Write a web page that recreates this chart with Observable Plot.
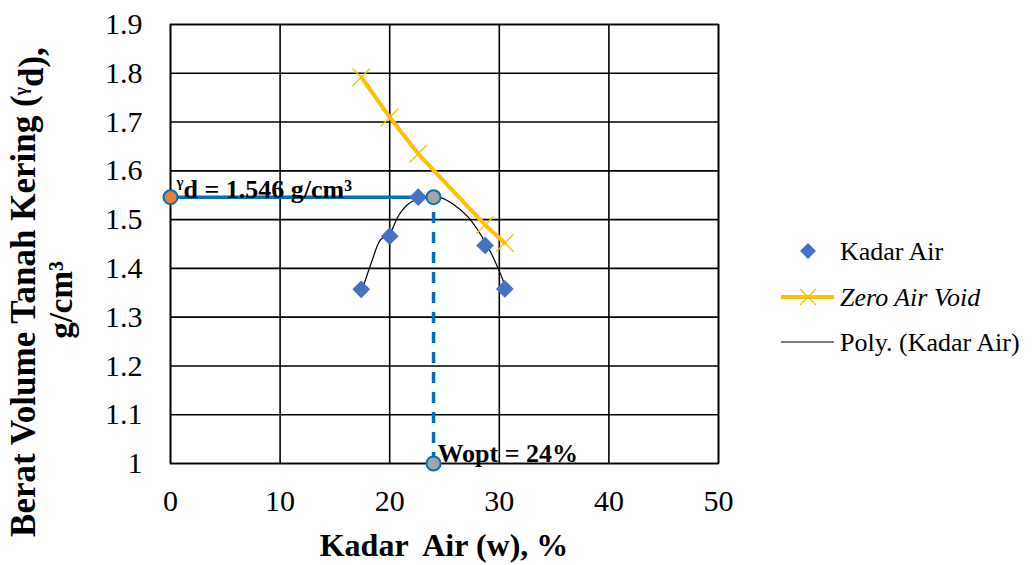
<!DOCTYPE html>
<html><head><meta charset="utf-8">
<script src="https://cdn.jsdelivr.net/npm/d3@7"></script>
<script src="https://cdn.jsdelivr.net/npm/@observablehq/plot@0.6"></script>
<style>
body{margin:0;background:#fff;}
#wrap{position:relative;width:1032px;height:565px;}
</style></head>
<body><div id="wrap"></div>
<script>
const FONT = "Liberation Serif, Times New Roman, serif";
// Kadar Air (moisture content, %) vs dry density (g/cm3)
const waterContent = [17.4, 20.0, 22.6, 28.7, 30.5];
const dryDensity = [1.357, 1.466, 1.546, 1.447, 1.358];
// Zero Air Void line
const zavWater = [17.4, 20.0, 22.6, 28.7, 30.5];
const zavDensity = [1.792, 1.710, 1.635, 1.489, 1.452];
// Poly. (Kadar Air) trendline
const polyWater = [17.46, 18.38, 19.14, 20.0, 20.83, 21.75, 22.67, 23.59, 24.66, 25.89, 27.12, 28.34, 29.26, 30.03, 30.49];
const polyDensity = [1.354, 1.415, 1.458, 1.472, 1.509, 1.533, 1.543, 1.547, 1.545, 1.530, 1.506, 1.468, 1.431, 1.393, 1.366];
// Optimum
const wOpt = 24;
const gammaMax = 1.546;
const xTicks = [0, 10, 20, 30, 40, 50];
const yTicks = [1, 1.1, 1.2, 1.3, 1.4, 1.5, 1.6, 1.7, 1.8, 1.9];
const legendLabels = ["Kadar Air", "Zero Air Void", "Poly. (Kadar Air)"];

const pts = waterContent.map((w, i) => ({w, d: dryDensity[i]}));
const zav = zavWater.map((w, i) => ({w, d: zavDensity[i]}));
const poly = polyWater.map((w, i) => ({w, d: polyDensity[i]}));

const blue = "#0070C0";
const plot = Plot.plot({
  width: 1032, height: 565,
  marginLeft: 170, marginRight: 314, marginTop: 24, marginBottom: 102,
  style: {fontFamily: FONT, fontSize: "30px", color: "#000", background: "#fff"},
  x: {domain: [0, 50], ticks: xTicks, tickSize: 0, tickPadding: 26, label: null},
  y: {domain: [1, 1.9], ticks: yTicks, tickSize: 0, tickPadding: 28, label: null, tickFormat: d => String(+d.toFixed(1))},
  marks: [
    Plot.gridX(xTicks, {stroke: "#000", strokeOpacity: 1, strokeWidth: 1.6}),
    Plot.gridY(yTicks, {stroke: "#000", strokeOpacity: 1, strokeWidth: 1.6}),
    Plot.frame({stroke: "#000", strokeWidth: 1.6}),
    Plot.line(poly, {x: "w", y: "d", stroke: "#000", strokeWidth: 1.2, curve: "catmull-rom"}),
    Plot.line(zav, {x: "w", y: "d", stroke: "#FFC000", strokeWidth: 4}),
    Plot.dot(zav, {x: "w", y: "d", symbol: "times", stroke: "#FFC000", strokeWidth: 1.3, r: 8}),
    Plot.ruleY([gammaMax], {x1: 0, x2: wOpt, stroke: blue, strokeWidth: 3.5}),
    Plot.ruleX([wOpt], {y1: 1, y2: gammaMax, stroke: blue, strokeWidth: 3.5, strokeDasharray: "11,9"}),
    Plot.dot(pts, {x: "w", y: "d", symbol: "diamond2", fill: "#4472C4", r: 8}),
    Plot.dot([{w: 0, d: gammaMax}], {x: "w", y: "d", fill: "#ED7D31", stroke: blue, strokeWidth: 2, r: 7}),
    Plot.dot([{w: wOpt, d: gammaMax}, {w: wOpt, d: 1}], {x: "w", y: "d", fill: "#A5A5A5", stroke: blue, strokeWidth: 2, r: 7}),
    Plot.text(["d = " + gammaMax.toFixed(3) + " g/cm³"], {x: 0, y: gammaMax, textAnchor: "start", dx: 6, dy: -12, fontSize: 26, fontWeight: "bold", fill: "#000", fontFamily: FONT}),
    Plot.text(["Wopt = " + wOpt + "%"], {x: wOpt, y: 1, textAnchor: "start", dx: 4, dy: -10, fontSize: 26, fontWeight: "bold", fill: "#000", fontFamily: FONT})
  ]
});
document.getElementById("wrap").appendChild(plot);

const svg = d3.select(plot);
svg.selectAll('g[aria-label$="tick label"]').attr("font-family", FONT).attr("font-size", 30);

// add small gamma before "d = ..." annotation
svg.selectAll("text").each(function() {
  const t = d3.select(this);
  if (t.text().startsWith("d = ")) {
    const txt = t.text();
    t.text(null);
    t.append("tspan").attr("font-size", 15).attr("dy", "-0.45em").text("γ");
    t.append("tspan").attr("dy", "0.45em").text(txt);
  }
});

// axis titles
svg.append("text").attr("x", 444).attr("y", 556).attr("text-anchor", "middle")
  .attr("font-family", FONT).attr("font-size", 32).attr("font-weight", "bold")
  .style("white-space", "pre").text("Kadar  Air (w), %");
const yt = svg.append("text").attr("transform", "translate(35,292) rotate(-90)").attr("text-anchor", "middle")
  .attr("font-family", FONT).attr("font-size", 35).attr("font-weight", "bold");
yt.append("tspan").text("Berat Volume Tanah Kering (");
yt.append("tspan").attr("font-size", 18).attr("dy", "-0.45em").text("γ");
yt.append("tspan").attr("dy", "0.45em").text("d),");
svg.append("text").attr("transform", "translate(72,300) rotate(-90)").attr("text-anchor", "middle")
  .attr("font-family", FONT).attr("font-size", 33).attr("font-weight", "bold").text("g/cm³");

// legend (drawn in the svg)
const lg = svg.append("g").attr("fill", "#000");
const rowsY = [251, 297, 342];
lg.append("path").attr("d", `M808,${rowsY[0]-8} L816,${rowsY[0]} L808,${rowsY[0]+8} L800,${rowsY[0]} Z`).attr("fill", "#4472C4");
lg.append("line").attr("x1", 781).attr("x2", 834).attr("y1", rowsY[1]).attr("y2", rowsY[1]).attr("stroke", "#FFC000").attr("stroke-width", 4);
lg.append("path").attr("d", `M800,${rowsY[1]-8} L816,${rowsY[1]+8} M816,${rowsY[1]-8} L800,${rowsY[1]+8}`).attr("stroke", "#FFC000").attr("stroke-width", 1.3);
lg.append("line").attr("x1", 781).attr("x2", 834).attr("y1", rowsY[2]).attr("y2", rowsY[2]).attr("stroke", "#000").attr("stroke-width", 1.2);
legendLabels.forEach((l, i) => {
  lg.append("text").attr("x", 840).attr("y", rowsY[i]).attr("dy", "0.34em").attr("text-anchor", "start")
    .attr("font-family", FONT).attr("font-size", 26)
    .attr("font-style", i === 1 ? "italic" : "normal").text(l);
});
</script></body></html>
